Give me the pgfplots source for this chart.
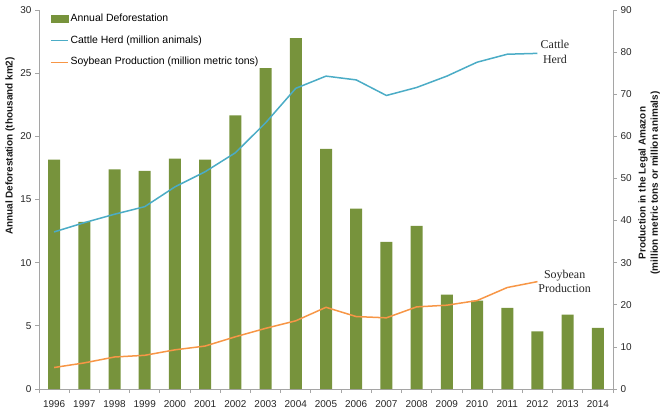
\documentclass[border=0pt]{standalone}
\usepackage{fontspec}
\setmainfont{Liberation Sans}
\newfontfamily\serifl{Liberation Serif}
\usepackage{pgfplots}
\pgfplotsset{compat=1.18}
\definecolor{barcol}{RGB}{119,147,60}
\definecolor{cattle}{RGB}{75,172,198}
\definecolor{soy}{RGB}{247,150,70}
\definecolor{axgray}{RGB}{165,165,165}
\begin{document}
\begin{tikzpicture}
\pgfplotsset{
  base/.style={
    width=574bp, height=379bp, scale only axis,
    xmin=1995.5, xmax=2014.5,
    axis line style={axgray, line width=0.75bp},
    tick style={axgray, line width=0.75bp},
    tick label style={font=\fontsize{10}{12}\selectfont, text=black!85},
    /pgf/number format/assume math mode=true,
    tick align=outside, major tick length=4bp, minor tick length=4bp,
    clip=false,
  }
}
\begin{axis}[base, name=ax,
  axis x line*=bottom, axis y line*=left,
  ymin=0, ymax=30, ytick={0,5,...,30},
  xtick={1996,...,2014}, major x tick style={draw=none},
  xticklabel style={/pgf/number format/1000 sep={}, yshift=-4bp},
  minor xtick={1995.5,1996.5,...,2014.5},
]
\addplot[ybar, bar width=12bp, fill=barcol, draw=none] coordinates {
(1996,18.161) (1997,13.227) (1998,17.383) (1999,17.259) (2000,18.226)
(2001,18.165) (2002,21.651) (2003,25.396) (2004,27.772) (2005,19.014)
(2006,14.286) (2007,11.651) (2008,12.911) (2009,7.464) (2010,7.000)
(2011,6.418) (2012,4.571) (2013,5.891) (2014,4.848)};
\end{axis}
\begin{axis}[base,
  axis x line=none, axis y line*=right,
  ymin=0, ymax=90, ytick={0,10,...,90},
  legend style={at={(axis description cs:0.019,0.995)}, anchor=north west,
    draw=none, fill=none, inner sep=0pt, row sep=8bp,
    font=\fontsize{10.5}{12}\selectfont,
    nodes={text height=7.5bp, text depth=2.2bp, inner sep=2bp}},
  legend cell align=left,
]
\addlegendimage{legend image code/.code={\fill[barcol] (0bp,-3.5bp) rectangle (17bp,3.5bp);}}
\addlegendentry{Annual Deforestation}
\addplot[cattle, line width=1.5bp, mark=none] coordinates {
(1996,37.3) (1997,39.5) (1998,41.5) (1999,43.3) (2000,48.0)
(2001,51.6) (2002,56.1) (2003,63.2) (2004,71.4) (2005,74.3)
(2006,73.4) (2007,69.7) (2008,71.6) (2009,74.3) (2010,77.6)
(2011,79.5) (2012,79.7)};
\addlegendentry{Cattle Herd (million animals)}
\addplot[soy, line width=1.5bp, mark=none] coordinates {
(1996,5.1) (1997,6.2) (1998,7.6) (1999,8.0) (2000,9.3)
(2001,10.2) (2002,12.4) (2003,14.4) (2004,16.2) (2005,19.4)
(2006,17.2) (2007,16.9) (2008,19.5) (2009,19.9) (2010,21.0)
(2011,24.1) (2012,25.5)};
\addlegendentry{Soybean Production (million metric tons)}
\node[font=\serifl\fontsize{12}{15}\selectfont, align=center, text=black!85] at (axis cs:2012.58,80.0) {Cattle\\Herd};
\node[font=\serifl\fontsize{12}{14}\selectfont, align=center, text=black!85] at (axis cs:2012.9,25.6) {Soybean\\Production};
\node[rotate=90, font=\bfseries\fontsize{10}{12}\selectfont, text=black!90] at (axis description cs:-0.0505,0.641) {Annual Deforestation (thousand km2)};
\node[rotate=90, align=center, font=\bfseries\fontsize{10}{12.5}\selectfont, text=black!90] at (axis description cs:1.063,0.5435) {Production in the Legal Amazon\\(million metric tons or million animals)};
\end{axis}
\pgfresetboundingbox
\path[use as bounding box] ([xshift=-39bp,yshift=-27bp]ax.south west) rectangle ([xshift=55bp,yshift=10bp]ax.north east);
\end{tikzpicture}
\end{document}
